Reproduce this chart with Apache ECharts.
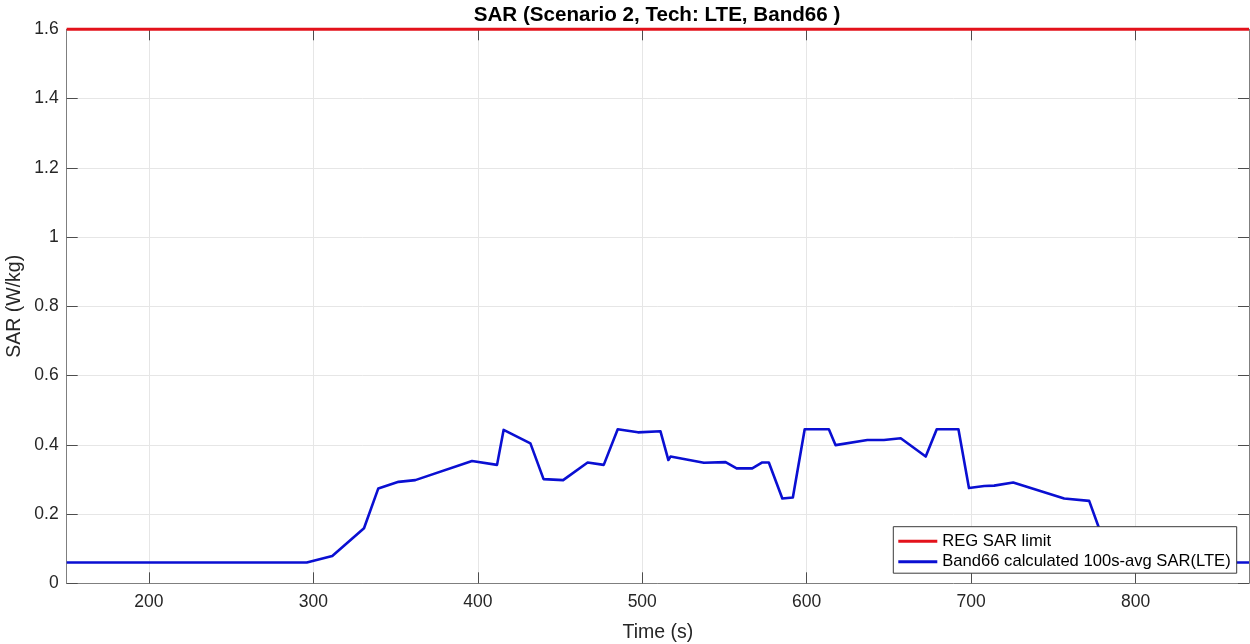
<!DOCTYPE html>
<html>
<head>
<meta charset="utf-8">
<script src="https://cdn.jsdelivr.net/npm/echarts@6/dist/echarts.min.js"></script>
<style>
html,body{margin:0;padding:0;background:#fff;}
#chart{width:1250px;height:644px;}
</style>
</head>
<body>
<div id="chart"></div>
<script>
// ---- data ----
const timeS = [150, 296, 311.5, 330.8, 339.5, 351.8, 362, 396.5, 411.7, 415.7, 432, 440, 451.9, 466.8, 476.6, 485.1, 497.4, 511.1, 515.9, 517.2, 537.5, 550.7, 557.4, 566.9, 573, 577, 585.2, 591.6, 598.8, 613.5, 617.6, 636.9, 647, 657.2, 672.4, 679.1, 692.3, 698.7, 708, 714, 725.6, 756.6, 771.8, 777.6, 785, 869];
const sarLTE = [0.06, 0.06, 0.079, 0.159, 0.274, 0.293, 0.298, 0.353, 0.342, 0.443, 0.404, 0.301, 0.298, 0.349, 0.342, 0.445, 0.436, 0.439, 0.356, 0.366, 0.348, 0.35, 0.332, 0.332, 0.349, 0.349, 0.245, 0.248, 0.445, 0.445, 0.399, 0.414, 0.414, 0.419, 0.366, 0.445, 0.445, 0.275, 0.281, 0.282, 0.291, 0.245, 0.238, 0.162, 0.06, 0.06];
const limitTime = [150, 869];
const limitSAR = [1.6, 1.6];
const xTicks = [200, 300, 400, 500, 600, 700, 800];
const xRange = [150, 869];
const yRange = [0, 1.6];
const yStep = 0.2;
const seriesNames = ['REG SAR limit', 'Band66 calculated 100s-avg SAR(LTE)'];
const titleText = 'SAR (Scenario 2, Tech: LTE, Band66 )';
const xName = 'Time (s)';
const yName = 'SAR (W/kg)';

const FONT = '"Liberation Sans", Arial, Helvetica, sans-serif';
const zip = (a, b) => a.map((v, i) => [v, b[i]]);
const LINE_ICON = 'path://M0,0 H39 V3 H0 Z';

const chart = echarts.init(document.getElementById('chart'), null, {renderer: 'canvas'});
const axisCol = '#7f7f7f';
const tickCol = '#4d4d4d';
const labelCol = '#262626';
const gridCol = '#e6e6e6';

const option = {
  animation: false,
  backgroundColor: '#ffffff',
  title: {
    text: titleText,
    left: 657,
    top: 5,
    padding: 0,
    textAlign: 'center',
    textStyle: {fontFamily: FONT, fontSize: 20.6, fontWeight: 'bold', color: '#000'}
  },
  grid: {left: 66.7, right: 1, top: 29.3, bottom: 60.7, containLabel: false, outerBoundsMode: 'none'},
  legend: {
    orient: 'vertical',
    left: 893.3,
    top: 526.7,
    z: 20,
    padding: [6, 6, 3, 5],
    itemWidth: 39,
    itemHeight: 20,
    itemGap: 3.5,
    backgroundColor: '#ffffff',
    borderColor: '#3a3a3a',
    borderWidth: 1,
    borderRadius: 0,
    textStyle: {fontFamily: FONT, fontSize: 16.6, color: '#000', padding: [0, 0, 0, 0]},
    data: seriesNames.map(n => ({name: n, icon: LINE_ICON}))
  },
  xAxis: [{
    type: 'value',
    min: xRange[0], max: xRange[1],
    name: xName,
    nameLocation: 'middle',
    nameGap: 39,
    nameMoveOverlap: false,
    nameTextStyle: {fontFamily: FONT, fontSize: 19.5, color: labelCol},
    axisLine: {show: true, onZero: false, lineStyle: {color: axisCol, width: 1}},
    axisTick: {show: true, inside: true, length: 11, customValues: xTicks, lineStyle: {color: tickCol}},
    axisLabel: {show: true, customValues: xTicks, margin: 10, fontFamily: FONT, fontSize: 17.5, color: labelCol},
    splitLine: {show: true, lineStyle: {color: gridCol, width: 1}}
  }, {
    type: 'value',
    position: 'top',
    min: xRange[0], max: xRange[1],
    axisLine: {show: true, onZero: false, lineStyle: {color: axisCol, width: 1}},
    axisTick: {show: true, inside: true, length: 11, customValues: xTicks, lineStyle: {color: tickCol}},
    axisLabel: {show: false, customValues: xTicks},
    splitLine: {show: false}
  }],
  yAxis: [{
    type: 'value',
    min: yRange[0], max: yRange[1], interval: yStep,
    name: yName,
    nameLocation: 'middle',
    nameGap: 42,
    nameMoveOverlap: false,
    nameTextStyle: {fontFamily: FONT, fontSize: 19.5, color: labelCol},
    axisLine: {show: true, onZero: false, lineStyle: {color: axisCol, width: 1}},
    axisTick: {show: true, inside: true, length: 11, lineStyle: {color: tickCol}},
    axisLabel: {show: true, margin: 8, fontFamily: FONT, fontSize: 17.5, color: labelCol},
    splitLine: {show: true, lineStyle: {color: gridCol, width: 1}}
  }, {
    type: 'value',
    position: 'right',
    min: yRange[0], max: yRange[1], interval: yStep,
    axisLine: {show: true, onZero: false, lineStyle: {color: axisCol, width: 1}},
    axisTick: {show: true, inside: true, length: 11, lineStyle: {color: tickCol}},
    axisLabel: {show: false},
    splitLine: {show: false}
  }],
  series: [{
    name: seriesNames[0],
    type: 'line',
    data: zip(limitTime, limitSAR),
    symbol: 'none',
    clip: false,
    z: 3,
    lineStyle: {color: '#e3121b', width: 3},
    itemStyle: {color: '#e3121b'}
  }, {
    name: seriesNames[1],
    type: 'line',
    data: zip(timeS, sarLTE),
    symbol: 'none',
    z: 2,
    lineStyle: {color: '#0a0fd2', width: 2.6, join: 'round'},
    itemStyle: {color: '#0a0fd2'}
  }]
};
chart.setOption(option);
</script>
</body>
</html>
